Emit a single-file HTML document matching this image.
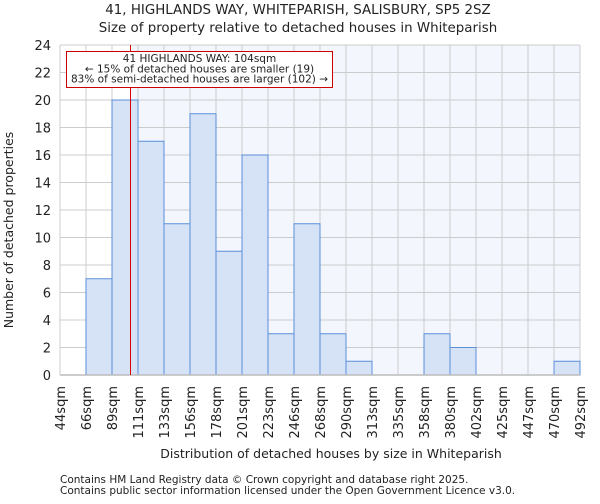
<!DOCTYPE html>
<html><head><meta charset="utf-8"><style>
body{margin:0;background:#fff;font-family:"DejaVu Sans","Liberation Sans",sans-serif;}
svg text{font-family:"DejaVu Sans","Liberation Sans",sans-serif;fill:#222;}
</style></head><body>
<svg id="chart" width="600" height="500">
<text x="298" y="14" font-size="13.4" text-anchor="middle">41, HIGHLANDS WAY, WHITEPARISH, SALISBURY, SP5 2SZ</text>
<text x="298" y="32" font-size="13.4" text-anchor="middle">Size of property relative to detached houses in Whiteparish</text>
<g id="plot"></g>
<text x="331" y="458" font-size="12.5" text-anchor="middle">Distribution of detached houses by size in Whiteparish</text>
<text transform="translate(13,230) rotate(-90)" font-size="12.5" text-anchor="middle">Number of detached properties</text>
<text x="60" y="483" font-size="10.5" fill="#444">Contains HM Land Registry data © Crown copyright and database right 2025.</text>
<text x="60" y="494" font-size="10.5" fill="#444">Contains public sector information licensed under the Open Government Licence v3.0.</text>
</svg>
<script>
const binLabels=["44sqm","66sqm","89sqm","111sqm","133sqm","156sqm","178sqm","201sqm","223sqm","246sqm","268sqm","290sqm","313sqm","335sqm","358sqm","380sqm","402sqm","425sqm","447sqm","470sqm","492sqm"];
const counts=[0,7,20,17,11,19,9,16,3,11,3,1,0,0,3,2,0,0,0,1];
const yTicks=[0,2,4,6,8,10,12,14,16,18,20,22,24];
const subjectSize=104;
const minSize=44, maxSize=492;
const L=60,R=580,T=45,B=375,yMax=24;
const NS="http://www.w3.org/2000/svg";
const g=document.getElementById('plot');
const nb=counts.length;
const xb=i=>L+(R-L)*i/nb;
const xs=v=>L+(R-L)*(v-minSize)/(maxSize-minSize);
const y=v=>B-(B-T)*v/yMax;
function mk(t,a){const e=document.createElementNS(NS,t);for(const k in a)e.setAttribute(k,a[k]);g.appendChild(e);return e;}
const sx=Math.round(xs(subjectSize))+0.5;
let e=mk('rect',{x:L,y:T,width:sx-L,height:B-T,fill:'#ffffff'});


e=mk('rect',{x:sx,y:T,width:R-sx,height:B-T,fill:'#f3f6fd'});


yTicks.forEach(t=>{
 e=mk('line',{x1:L,x2:R,y1:y(t),y2:y(t),stroke:'#cccccc','stroke-width':1});
 
 
 e=mk('text',{x:L-9,y:y(t)+5,'font-size':13,'text-anchor':'end'});e.textContent=t;
 
 
});
binLabels.forEach((lb,i)=>{
 e=mk('line',{x1:xb(i),x2:xb(i),y1:T,y2:B,stroke:'#cccccc','stroke-width':1});
 
 
 e=mk('text',{transform:`translate(${xb(i)+5},386) rotate(-90)`,'font-size':13,'text-anchor':'end'});e.textContent=lb;
 
 
});
counts.forEach((c,i)=>{
 if(c<=0)return;
 e=mk('rect',{x:xb(i),y:y(c),width:xb(i+1)-xb(i),height:B-y(c),fill:'#d6e2f5',stroke:'#5b8fd9','stroke-width':1});
 
 
});
e=mk('line',{x1:L,x2:R,y1:B,y2:B,stroke:'#bbbbbb','stroke-width':1.5});


e=mk('line',{x1:sx,x2:sx,y1:T,y2:B,stroke:'#dd0000','stroke-width':1});


e=mk('rect',{x:66.5,y:51.5,width:266,height:36,fill:'#fff',stroke:'#cc0000','stroke-width':1});


["41 HIGHLANDS WAY: 104sqm","← 15% of detached houses are smaller (19)","83% of semi-detached houses are larger (102) →"].forEach((s,i)=>{
 e=mk('text',{x:199.5,y:62+i*10.3,'font-size':10.5,'text-anchor':'middle'});e.textContent=s;
 
 
});
</script>
</body></html>
